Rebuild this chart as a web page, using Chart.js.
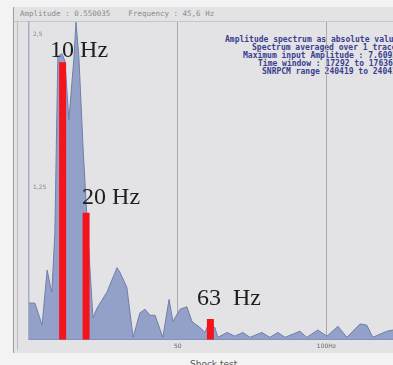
<!DOCTYPE html>
<html>
<head>
<meta charset="utf-8">
<script src="https://cdn.jsdelivr.net/npm/chart.js@4"></script>
<style>
  body { margin: 0; width: 393px; height: 365px; overflow: hidden; background: #f3f3f3; position: relative; }
  #frame { position: absolute; left: 13px; top: 7px; width: 380px; height: 346px; background: #e3e3e5; border-left: 1px solid #9c9c9c; }
  #inner { position: absolute; left: 17px; top: 22px; width: 1px; height: 328px; background: #bcbcbc; }
  #sep { position: absolute; left: 14px; top: 21px; width: 379px; height: 1px; background: #c6c6c6; }
  #status { position: absolute; left: 20px; top: 9px; font: 7.5px "DejaVu Sans Mono", monospace; color: #8a8a8a; white-space: pre; }
  .info { position: absolute; font: bold 8px "DejaVu Sans Mono", monospace; color: #3a4090; white-space: pre; }
  #foot { position: absolute; left: 190px; top: 359px; font: 9px "DejaVu Sans", sans-serif; color: #555; }
  #wrap { position: absolute; left: 0; top: 0; width: 393px; height: 365px; }
</style>
</head>
<body>
<div id="frame"></div>
<div id="inner"></div>
<div id="sep"></div>
<div id="status">Amplitude : 0.550035    Frequency : 45,6 Hz</div>
<div class="info" style="left:225px;top:35px">Amplitude spectrum as absolute values</div>
<div class="info" style="left:252px;top:43px">Spectrum averaged over 1 traces</div>
<div class="info" style="left:243px;top:51px">Maximum input Amplitude : 7.6093</div>
<div class="info" style="left:258px;top:59px">Time window : 17292 to 17636</div>
<div class="info" style="left:262px;top:67px">SNRPCM range 240419 to 240419</div>
<div id="foot">Shock test</div>
<div id="wrap"><canvas id="chart" width="393" height="365"></canvas></div>
<script>
// spectrum (Hz / amplitude)
const specFreq = [0, 2.0, 4.4, 6.1, 7.1, 7.7, 8.7, 9.7, 11.1, 12.1,
  13.4, 15.1, 15.8, 16.8, 18.2, 19.8, 21.5, 22.9, 26.2, 29.6,
  30.6, 32.9, 35.0, 37.3, 39.0, 40.7, 42.4, 45.0, 47.1, 48.4,
  50.8, 53.1, 54.8, 57.5, 59.2, 60.2, 62.5, 63.5, 66.6, 69.2,
  71.9, 74.3, 78.3, 81.0, 83.7, 86.1, 91.1, 93.4, 97.1, 100.2,
  103.9, 106.9, 111.3, 113.6, 115.6, 120.3, 122.4];
const specAmp = [0.30, 0.30, 0.12, 0.57, 0.45, 0.39, 0.88, 2.32, 2.34, 2.28,
  1.80, 2.30, 2.60, 2.30, 1.56, 0.86, 0.18, 0.26, 0.39, 0.59,
  0.55, 0.43, 0.02, 0.22, 0.25, 0.20, 0.20, 0.02, 0.33, 0.15,
  0.25, 0.27, 0.15, 0.10, 0.06, 0.12, 0.10, 0.02, 0.06, 0.03,
  0.06, 0.02, 0.06, 0.02, 0.06, 0.02, 0.07, 0.02, 0.08, 0.03,
  0.11, 0.02, 0.13, 0.12, 0.02, 0.07, 0.08];

// red markers
const markerFreq = [11.3, 19.2, 61.0];
const markerAmp = [2.27, 1.04, 0.17];
const markerLabels = ["10 Hz", "20 Hz", "63  Hz"];

// axis ticks
const xTicks = [50, 100];
const xTickLabels = ["50", "100Hz"];
const yTicks = [1.25, 2.5];
const yTickLabels = ["1,25", "2,5"];

const specData = specFreq.map((f, i) => ({ x: f, y: specAmp[i] }));

const markerSets = markerFreq.map((f, i) => ({
  type: "line",
  data: [{ x: f, y: 0 }, { x: f, y: markerAmp[i] }],
  borderColor: "#f4141c",
  borderWidth: 7,
  borderCapStyle: "butt",
  pointRadius: 0,
  fill: false,
  order: 0
}));

const labelPlugin = {
  id: "markerLabels",
  afterDatasetsDraw(chart) {
    const ctx = chart.ctx;
    const xs = chart.scales.x, ys = chart.scales.y;
    const dx = [-12.5, -4, -13.5];
    const dy = [-5, -9, -14];
    ctx.save();
    ctx.font = "24px 'Liberation Serif', serif";
    ctx.fillStyle = "#1e1e1e";
    ctx.textBaseline = "alphabetic";
    markerLabels.forEach((t, i) => {
      const px = xs.getPixelForValue(markerFreq[i]) + dx[i];
      const py = ys.getPixelForValue(markerAmp[i]) + dy[i];
      ctx.fillText(t, px, py);
    });
    ctx.restore();
  }
};

new Chart(document.getElementById("chart"), {
  type: "line",
  data: {
    datasets: [
      ...markerSets,
      {
        data: specData,
        borderColor: "#6f7eab",
        borderWidth: 1,
        backgroundColor: "#93a1c8",
        fill: "origin",
        pointRadius: 0,
        tension: 0,
        order: 1
      }
    ]
  },
  options: {
    responsive: false,
    animation: false,
    events: [],
    layout: { padding: { left: 21, right: 0, top: 22, bottom: 12 } },
    plugins: { legend: { display: false }, tooltip: { enabled: false } },
    scales: {
      x: {
        type: "linear",
        min: 0,
        max: 122.4,
        afterBuildTicks: s => { s.ticks = xTicks.map(v => ({ value: v })); },
        ticks: {
          callback: (v) => xTickLabels[xTicks.indexOf(v)],
          font: { size: 6, family: "DejaVu Sans" },
          color: "#666",
          padding: 3,
          maxRotation: 0,
          autoSkip: false
        },
        grid: { color: "#a9a9ab", lineWidth: 1, drawTicks: false },
        border: { display: true, color: "#7886b2", width: 1 }
      },
      y: {
        min: 0,
        max: 2.6,
        afterBuildTicks: s => { s.ticks = yTicks.map(v => ({ value: v })); },
        ticks: {
          mirror: true,
          padding: 4,
          callback: (v) => yTickLabels[yTicks.indexOf(v)],
          font: { size: 6, family: "DejaVu Sans" },
          color: "#888"
        },
        grid: { display: false, drawTicks: false },
        border: { display: true, color: "#a8aeca", width: 1.5 }
      }
    }
  },
  plugins: [labelPlugin]
});
</script>
</body>
</html>
